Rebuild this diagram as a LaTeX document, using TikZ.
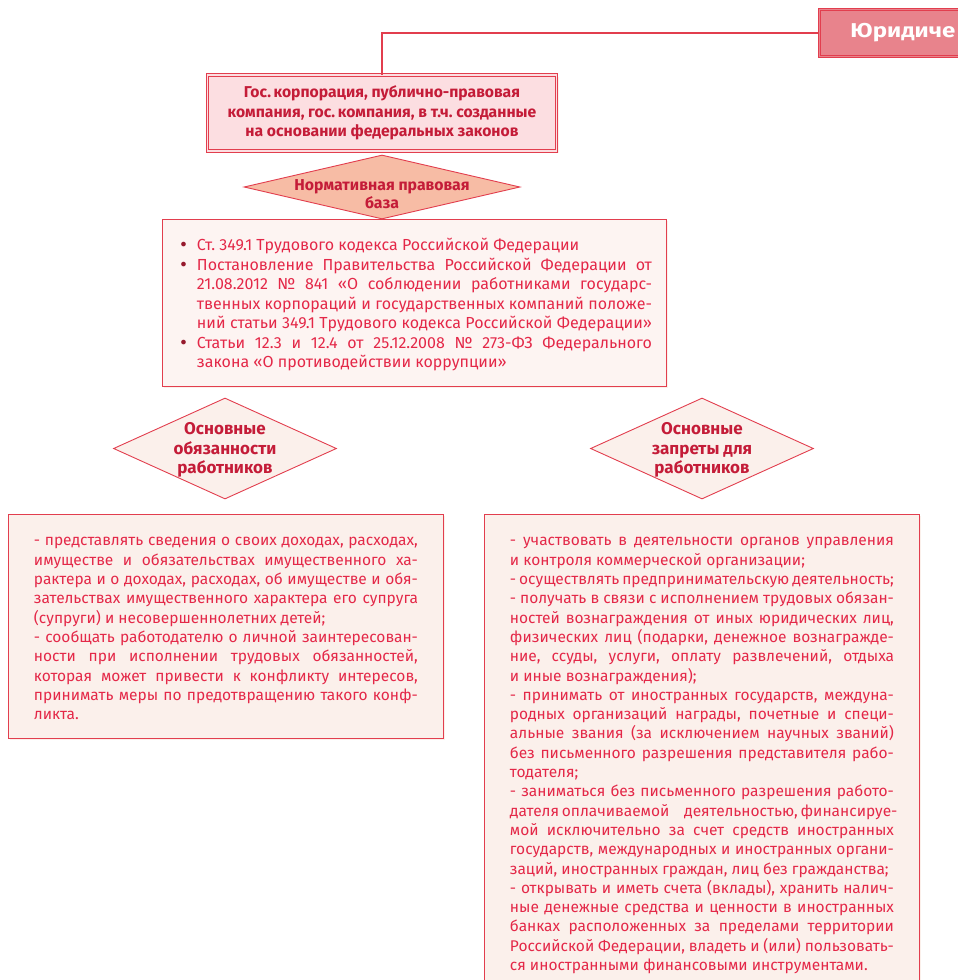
\documentclass[tikz,border=0pt]{standalone}
\usepackage{fontspec}
\setmainfont{Fira Sans}
\newfontfamily\widefont[FakeStretch=1.2]{Fira Sans}
\newfontfamily\dotfont{DejaVu Sans}
\usepackage{tikz}
\usetikzlibrary{shapes.geometric}
\usetikzlibrary{shadows}
\usepackage{xcolor}

\definecolor{linered}{RGB}{226,62,78}
\definecolor{headfill}{RGB}{232,131,140}
\definecolor{gosfill}{RGB}{252,222,225}
\definecolor{salmon}{RGB}{247,188,165}
\definecolor{cream}{RGB}{251,240,235}
\definecolor{paper}{RGB}{253,244,242}
\definecolor{textred}{RGB}{228,40,72}
\definecolor{darkred}{RGB}{196,28,56}
\definecolor{dotred}{RGB}{150,25,45}

\frenchspacing
\newcommand{\dotmark}{\textcolor{dotred}{\dotfont•}}
\newcommand{\jrow}[1]{\makebox[384pt][s]{#1}}
\newcommand{\brow}[1]{\hspace*{2pt}\makebox[18pt][l]{\dotmark}#1}
\newcommand{\bjrow}[1]{\hspace*{2pt}\makebox[18pt][l]{\dotmark}\makebox[455pt][s]{#1}}
\newcommand{\irow}[1]{\hspace*{20pt}#1}
\newcommand{\ijrow}[1]{\hspace*{20pt}\makebox[455pt][s]{#1}}
\newcommand{\toprow}{\rule{0pt}{16.5pt}}
\newcommand{\lastrow}{\rule[-3.5pt]{0pt}{0pt}}

\begin{document}
\begin{tikzpicture}[x=1pt,y=-1pt]
		\tikzstyle{conn}=[draw=linered, line width=1.3pt]
		\tikzstyle{soft}=[drop shadow={shadow xshift=2pt, shadow yshift=-2pt, fill=cream, opacity=1}]
		\tikzstyle{headbox}=[draw=linered, fill=headfill, double=headfill, double distance=1.6pt, line width=.9pt, anchor=west, minimum height=47pt, text width=150pt, inner xsep=31pt, align=flush left, text=white, font=\widefont\bfseries\fontsize{20}{22}\selectfont]
		\tikzstyle{gosbox}=[draw=linered, fill=gosfill, double=gosfill, double distance=1.6pt, line width=.9pt, minimum width=349pt, minimum height=76pt, align=center, text=darkred, font=\bfseries\fontsize{15.7}{19.5}\selectfont]
		\tikzstyle{diam}=[shape=diamond, draw=linered, line width=.9pt, inner sep=0pt]
		\tikzstyle{dtext}=[align=center, text=darkred, font=\bfseries\fontsize{17}{19.2}\selectfont]
		\tikzstyle{textbox}=[soft, draw=linered, line width=.9pt, anchor=north west, inner ysep=15pt, align=flush left, text=textred, font=\fontsize{15.5}{19.3}\selectfont]

		\useasboundingbox (0,0) rectangle (958,980);
		\clip (0,0) rectangle (958,980);

		\node[headbox] (head) at (819,33) {Юридиче};
		\node[gosbox, soft] (gos) at (382,113) {Гос.\,корпорация, публично-правовая\\компания, гос.\,компания, в т.ч. созданные\\на основании федеральных законов};
		\draw[conn] (head.west) -| (gos.north);

		\node[diam, fill=salmon, minimum width=276pt, minimum height=64pt] (norm) at (382,187) {};
		\node[dtext, font=\bfseries\fontsize{15.8}{18.5}\selectfont] (normtext) at (382,194) {Нормативная правовая\\база};

		\node[textbox, fill=paper, text width=475pt, inner xsep=14.5pt, font=\fontsize{16}{19.5}\selectfont] (basis) at (162,219) {\toprow\brow{Ст. 349.1 Трудового кодекса Российской Федерации}\\
\bjrow{Постановление Правительства Российской Федерации от}\\
\ijrow{21.08.2012 № 841 «О соблюдении работниками государс-}\\
\ijrow{твенных корпораций и государственных компаний положе-}\\
\ijrow{ний статьи 349.1 Трудового кодекса Российской Федерации»}\\
\bjrow{Статьи 12.3 и 12.4 от 25.12.2008 № 273-ФЗ Федерального}\\
\irow{закона «О противодействии коррупции»}\lastrow};

		\node[diam, fill=cream, minimum width=223pt, minimum height=101pt] (duty) at (225,448.5) {};
		\node[dtext] (dutytext) at (225,450) {Основные\\обязанности\\работников};
		\node[diam, fill=cream, minimum width=223pt, minimum height=101pt] (ban) at (702,448.5) {};
		\node[dtext] (bantext) at (702,450) {Основные\\запреты для\\работников};

		\node[textbox, fill=cream, text width=384pt, inner xsep=25.5pt] (dutylist) at (8,514) {\toprow\jrow{- представлять сведения о своих доходах, расходах,}\\
\jrow{имуществе и обязательствах имущественного ха-}\\
\jrow{рактера и о доходах, расходах, об имуществе и обя-}\\
\jrow{зательствах имущественного характера его супруга}\\
(супруги) и несовершеннолетних детей;\\
\jrow{- сообщать работодателю о личной заинтересован-}\\
\jrow{ности при исполнении трудовых обязанностей,}\\
\jrow{которая может привести к конфликту интересов,}\\
\jrow{принимать меры по предотвращению такого конф-}\\
ликта.\lastrow};

		\node[textbox, fill=cream, text width=384pt, inner xsep=25.5pt] (banlist) at (484,514) {\toprow\jrow{- участвовать в деятельности органов управления}\\
и контроля коммерческой организации;\\
\jrow{- осуществлять предпринимательскую деятельность;}\\
\jrow{- получать в связи с исполнением трудовых обязан-}\\
\jrow{ностей вознаграждения от иных юридических лиц,}\\
\jrow{физических лиц (подарки, денежное вознагражде-}\\
\jrow{ние, ссуды, услуги, оплату развлечений, отдыха}\\
и иные вознаграждения);\\
\jrow{- принимать от иностранных государств, междуна-}\\
\jrow{родных организаций награды, почетные и специ-}\\
\jrow{альные звания (за исключением научных званий)}\\
\jrow{без письменного разрешения представителя рабо-}\\
тодателя;\\
\jrow{- заниматься без письменного разрешения работо-}\\
\jrow{дателя оплачиваемой\hspace{12pt} \hfill деятельностью, финансируе-}\\
\jrow{мой исключительно за счет средств иностранных}\\
\jrow{государств, международных и иностранных органи-}\\
заций, иностранных граждан, лиц без гражданства;\\
\jrow{- открывать и иметь счета (вклады), хранить налич-}\\
\jrow{ные денежные средства и ценности в иностранных}\\
\jrow{банках расположенных за пределами территории}\\
\jrow{Российской Федерации, владеть и (или) пользовать-}\\
ся иностранными финансовыми инструментами.\\[20pt]\mbox{}};
\end{tikzpicture}
\end{document}
